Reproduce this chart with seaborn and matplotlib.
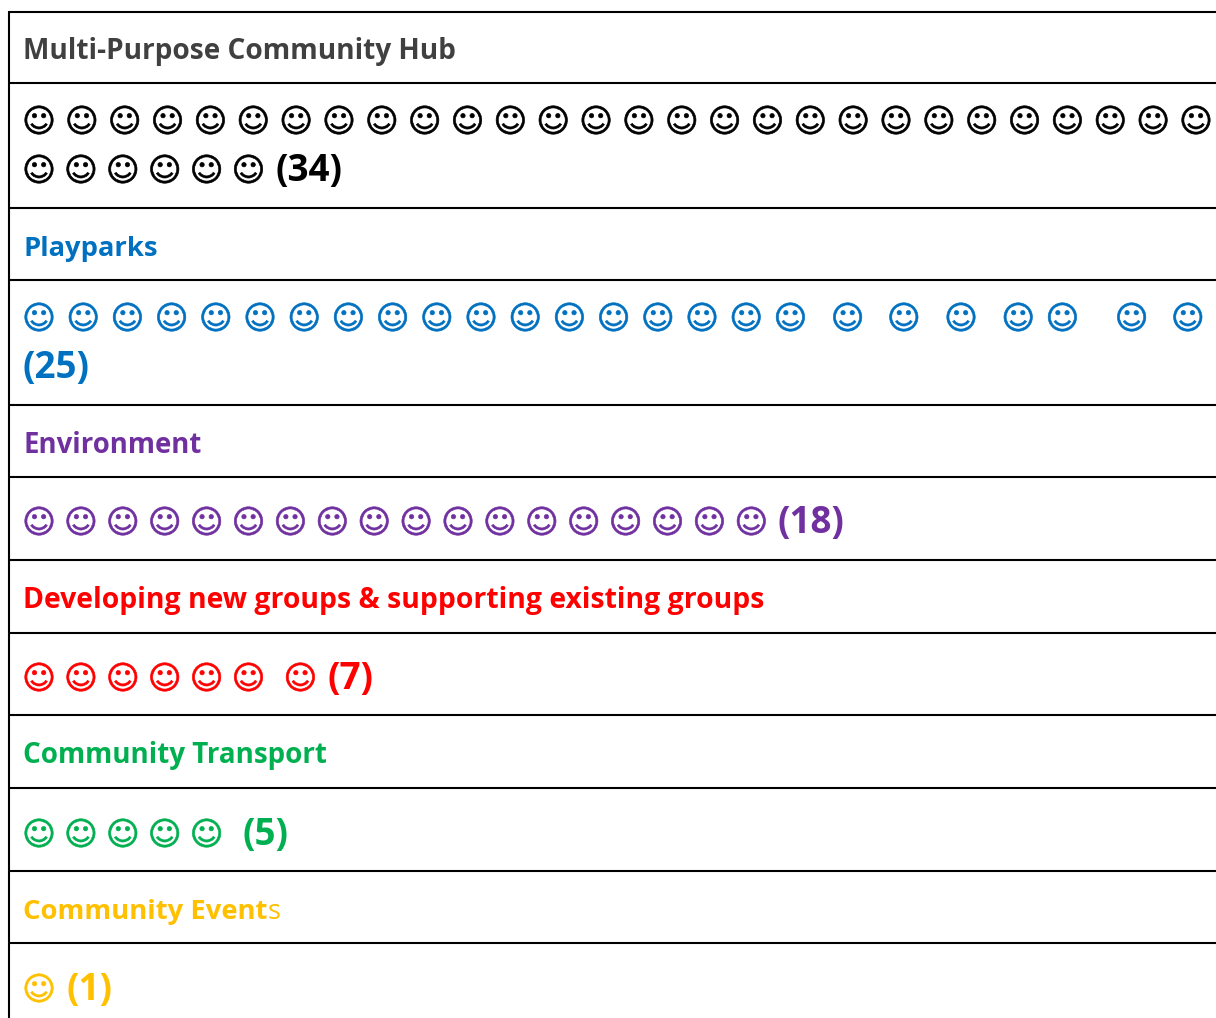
import pandas as pd
import seaborn as sns
import matplotlib.pyplot as plt

categories = ['Multi-Purpose Community Hub', 'Playparks', 'Environment',
              'Developing new groups & supporting existing groups',
              'Community Transport', 'Community Events']
votes = [34, 25, 18, 7, 5, 1]
colours = ['#000000', '#0070C0', '#7030A0', '#FF0000', '#00B050', '#FFC000']
head_colours = ['#404040', '#0070C0', '#7030A0', '#FF0000', '#00B050', '#FFC000']

# layout, in pixels of the 1216x1018 picture
grid_y = [11.5, 83, 208, 280, 405, 477, 560, 633, 715, 788, 871, 943]
head_y = [59, 256, 453, 608, 763, 919]
head_size = [20.2, 19.7, 19.8, 20.45, 20, 19.7]
first_y = [120, 317, 521, 677, 833, 988]
line_h = [49, 49, 0, 0, 0, 0]
per_line = [[28, 6], [25, 0], [18], [7], [5], [1]]
pitch = [[42.85, 41.9], [44.2, 0], [41.9], [41.9], [41.9], [41.9]]
extra = [{}, {18: 13, 19: 12, 20: 13, 21: 13, 23: 25, 24: 12}, {}, {6: 10}, {}, {}]
label_gap = [28, 28, 27, 28, 37, 28]
font = 'Open Sans'

rows = []
label_pos = []
for i, cat in enumerate(categories):
    n = 0
    for j, k in enumerate(per_line[i]):
        x = 39.0
        for m in range(k):
            if m > 0:
                x += pitch[i][j] + extra[i].get(n, 0)
            rows.append({'category': cat, 'x': x, 'y': first_y[i] + j * line_h[i]})
            n += 1
        if k > 0:
            last = x
    if len(per_line[i]) == 2 and per_line[i][1] == 0:
        label_pos.append((23, first_y[i] + line_h[i]))
    else:
        label_pos.append((last + label_gap[i] - 1, first_y[i] + (len(per_line[i]) - 1) * line_h[i]))
smileys = pd.DataFrame(rows)

sns.set_theme(style='white')
plt.rcParams['font.family'] = [font, 'DejaVu Sans']
fig, ax = plt.subplots(figsize=(12.16, 10.18), dpi=100)
fig.subplots_adjust(0, 0, 1, 1)

sns.scatterplot(data=smileys, x='x', y='y', hue='category', hue_order=categories,
                palette=colours, marker='$\u263a$', s=420, edgecolor='face',
                linewidth=0.45, legend=False, ax=ax)
ax.set_xlim(0, 1216)
ax.set_ylim(1018, 0)
ax.axis('off')

for y in grid_y:
    ax.plot([9, 1216], [y, y], color='black', lw=1.5, solid_capstyle='butt')
ax.plot([9, 9], [10.5, 1018], color='black', lw=1.5, solid_capstyle='butt')

fig.canvas.draw()
for i, cat in enumerate(categories):
    # last letter of the events heading is not bold in the original
    head = cat[:-1] if cat.endswith('Events') else cat
    t = ax.text(23, head_y[i], head, color=head_colours[i], fontsize=head_size[i],
                fontweight='bold', va='baseline', ha='left')
    if head != cat:
        x1 = t.get_window_extent(fig.canvas.get_renderer()).x1
        ax.text(x1, head_y[i], cat[-1], color=head_colours[i], fontsize=head_size[i],
                va='baseline', ha='left')
    lx, ly = label_pos[i]
    ax.text(lx, ly + 12, f'({votes[i]})', color=colours[i], fontsize=26.5,
            fontweight='bold', va='baseline', ha='left')

fig.savefig('out.png', dpi=100)
